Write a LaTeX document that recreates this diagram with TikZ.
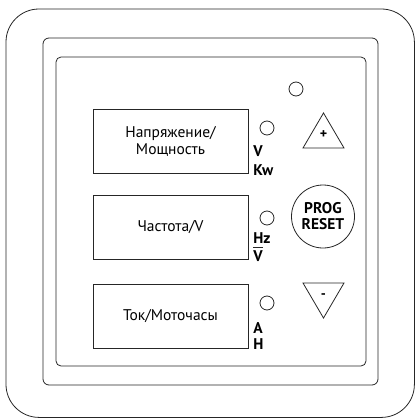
\documentclass[tikz,border=0pt]{standalone}
\usepackage{fontspec}
\setmainfont{PT Sans}
\begin{document}
\begin{tikzpicture}[x = 1pt, y = -1pt, line width = 0.8pt, draw = black!85,
    display/.style = {draw, minimum width = 155pt, minimum height = 64pt, align = center,
                      font = \fontsize{15.5}{17}\selectfont},
    led/.style = {circle, draw, minimum size = 14pt, inner sep = 0pt},
    unit/.style = {anchor = west, inner sep = 0pt, font = \bfseries\fontsize{15.5}{15}\selectfont},
    sign/.style = {inner sep = 0pt, font = \bfseries\fontsize{14}{14}\selectfont}]
  \useasboundingbox (0, 0) rectangle (415, 418);

  % frames
  \draw [rounded corners = 33pt] (6, 9) rectangle (414.4, 417.4);
  \draw [rounded corners = 6pt] (43, 38) rectangle (378, 385);
  \draw [rounded corners = 5pt] (56, 57) rectangle (366, 366);

  % displays
  \node [display] (d1) at (170.5, 141) {Напряжение/\\Мощность};
  \node [display] (d2) at (170.5, 227) {Частота/V};
  \node [display] (d3) at (170.5, 316.5) {Ток/Моточасы};

  % leds
  \node [led] (l0) at (296, 89){};
  \node [led] (l1) at (267, 128){};
  \node [led] (l2) at (267, 218){};
  \node [led] (l3) at (267, 303){};

  % units
  \node [unit] (u1a) at (253, 151) {V};
  \node [unit] (u1b) at (253, 170) {Kw};
  \node [unit] (u2a) at (253, 238) {Hz};
  \node [unit] (u2b) at (253, 256) {V};
  \draw ([yshift = 2.5pt]u2b.north west) -- ([yshift = 2.5pt]u2b.north east);
  \node [unit] (u3a) at (253, 328) {A};
  \node [unit] (u3b) at (253, 344) {H};

  % buttons
  \coordinate (p1) at (323.5, 113);
  \coordinate (p2) at (344, 148);
  \coordinate (p3) at (303, 148);
  \draw (p1) -- (p2) -- (p3) -- cycle;
  \node [sign] (plus) at (323.5, 135) {+};

  \node [circle, draw, minimum size = 63pt, inner sep = 0pt, align = center,
         font = \bfseries\fontsize{15.5}{16}\selectfont] (prog) at (323, 216.5) {PROG\\RESET};

  \coordinate (m1) at (303, 283);
  \coordinate (m2) at (344, 283);
  \coordinate (m3) at (323.5, 318);
  \draw (m1) -- (m2) -- (m3) -- cycle;
  \node [sign] (minus) at (323.5, 296) {-};
\end{tikzpicture}
\end{document}
